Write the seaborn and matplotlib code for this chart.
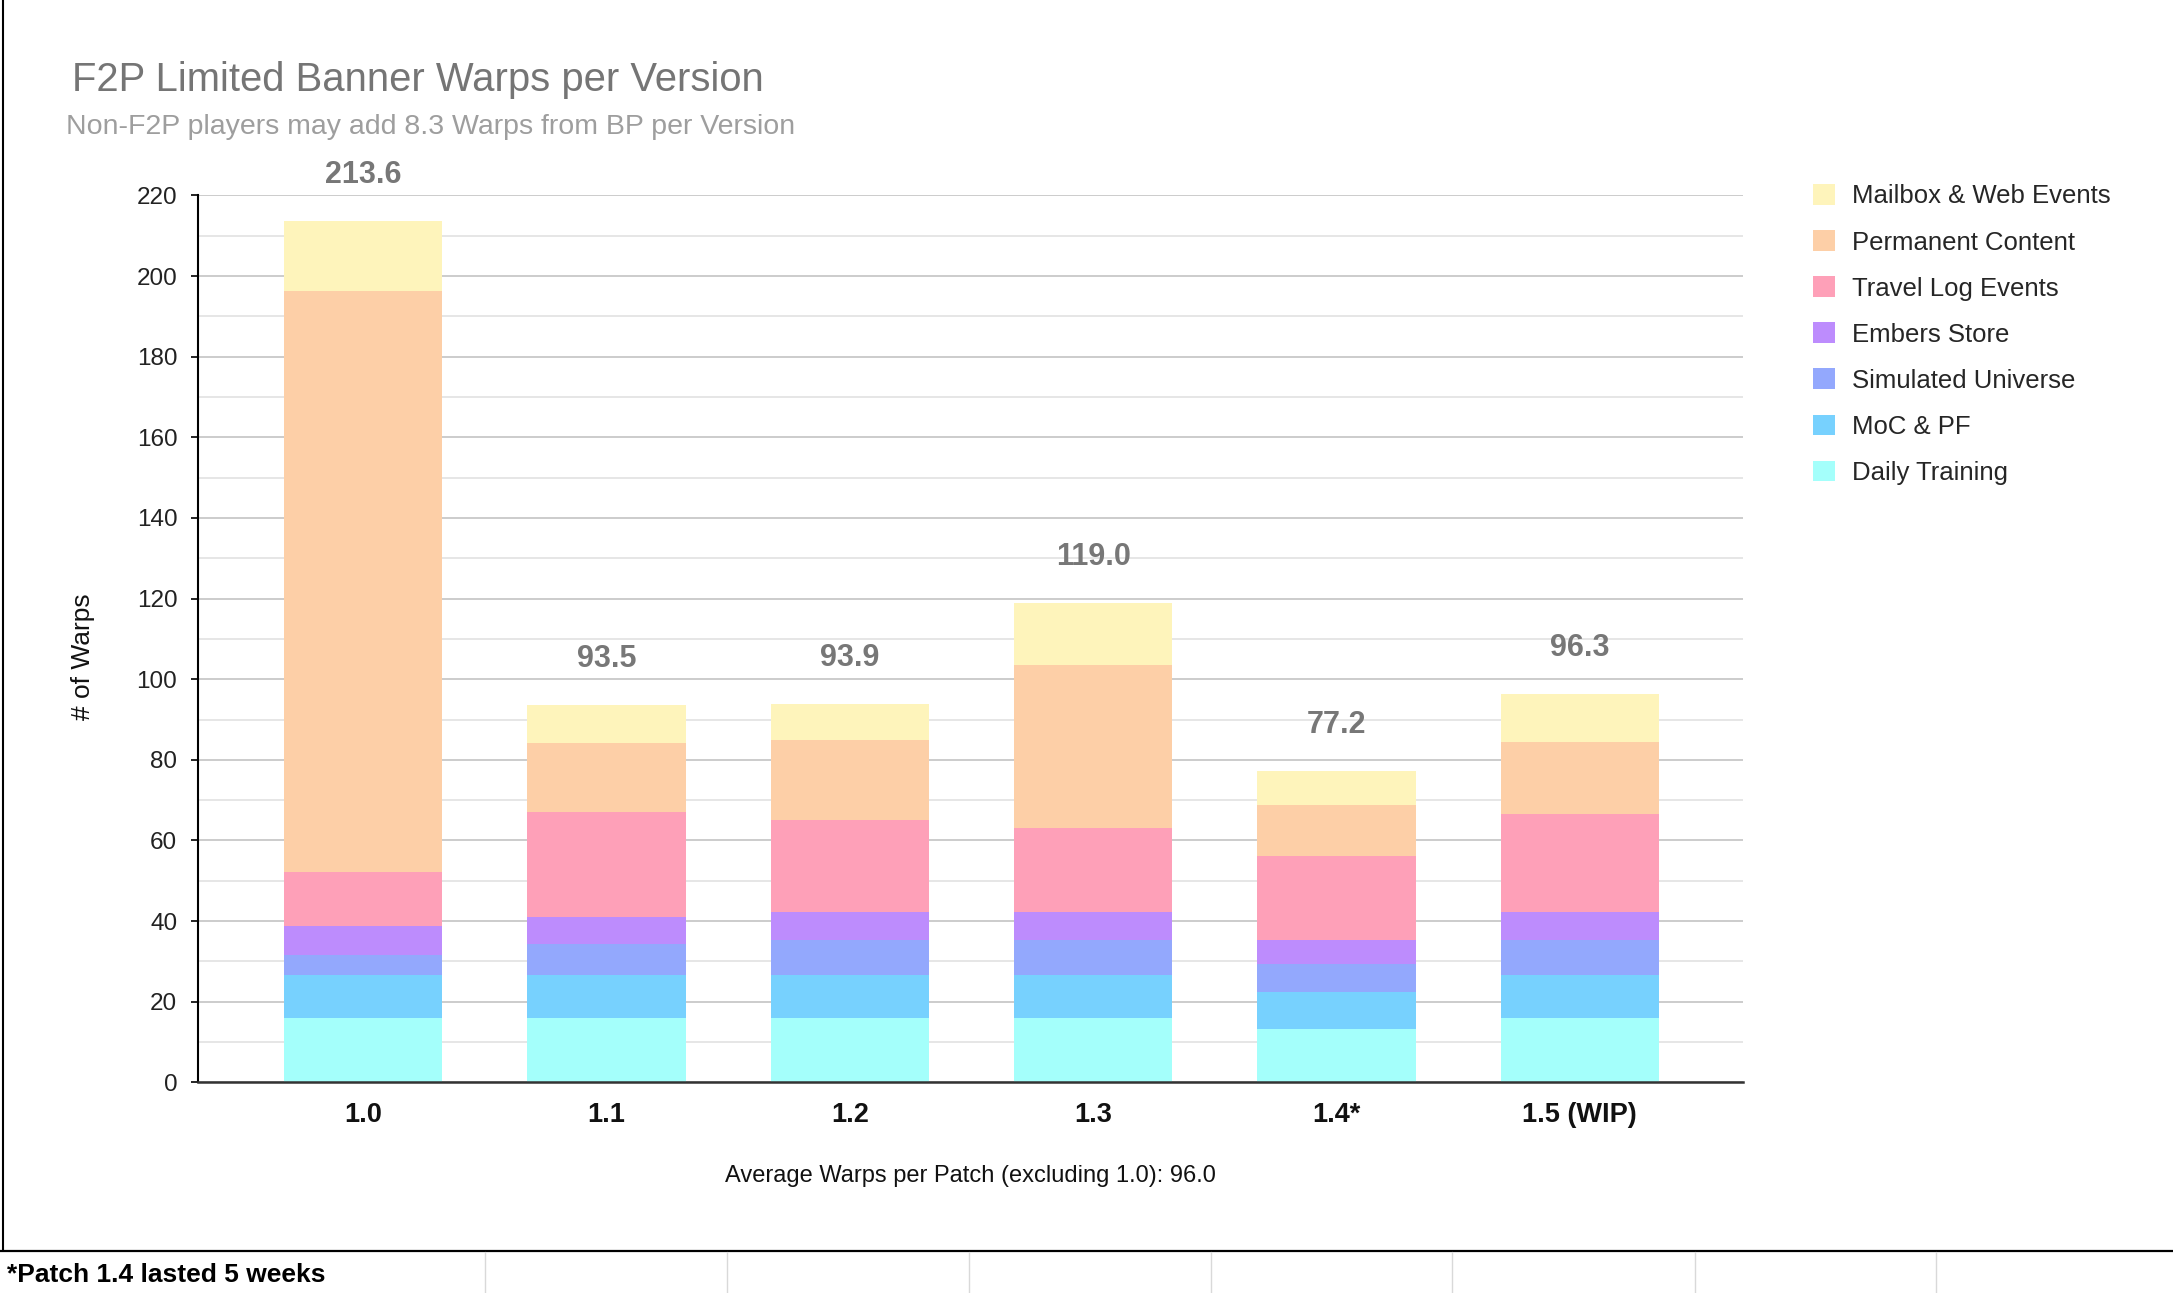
import numpy as np
import pandas as pd
import matplotlib
matplotlib.use("Agg")
import matplotlib.pyplot as plt
from matplotlib.lines import Line2D
from matplotlib.patches import Patch
import seaborn as sns

# ---- data ----
versions = ["1.0", "1.1", "1.2", "1.3", "1.4*", "1.5 (WIP)"]
daily_training = [15.9, 15.9, 15.9, 15.9, 13.2, 15.9]
moc_pf = [10.8, 10.8, 10.8, 10.8, 9.2, 10.8]
simulated_universe = [4.8, 7.5, 8.6, 8.6, 7.0, 8.6]
embers_store = [7.2, 6.9, 6.9, 6.9, 5.9, 6.9]
travel_log = [13.4, 25.9, 22.8, 20.8, 20.8, 24.3]
permanent_content = [144.1, 17.2, 19.8, 40.6, 12.8, 17.8]
mailbox_web = [17.4, 9.3, 9.1, 15.4, 8.3, 12.0]

series_names = ["Daily Training", "MoC & PF", "Simulated Universe", "Embers Store",
                "Travel Log Events", "Permanent Content", "Mailbox & Web Events"]
series_values = [daily_training, moc_pf, simulated_universe, embers_store,
                 travel_log, permanent_content, mailbox_web]
series_colors = ["#a4fffb", "#77d1fe", "#93a8fd", "#bd8cfd", "#fea0b8", "#fdcfa7", "#fef4bb"]

title = "F2P Limited Banner Warps per Version"
subtitle = "Non-F2P players may add 8.3 Warps from BP per Version"
footnote = "*Patch 1.4 lasted 5 weeks"

sns.set_theme(style="white")
plt.rcParams["font.family"] = ["Liberation Sans", "DejaVu Sans"]

fig = plt.figure(figsize=(21.73, 12.93), dpi=100)
ax = fig.add_axes([0.0912, 0.1629, 0.7111, 0.686])

stack = np.array(series_values)
cum = np.cumsum(stack, axis=0)
totals = cum[-1]

# draw cumulative layers from top down so each lower layer overlays the higher one
for i in range(len(series_names) - 1, -1, -1):
    df = pd.DataFrame({"version": versions, "value": cum[i]})
    sns.barplot(data=df, x="version", y="value", order=versions, color=series_colors[i],
                saturation=1, width=0.65, errorbar=None, ax=ax, zorder=2, linewidth=0)

avg_excl = np.mean(totals[1:])

for i, t in enumerate(totals):
    ax.text(i, t + 11.4, f"{t:.1f}", ha="center", va="center", fontsize=22,
            fontweight="bold", color="#777777")

ax.set_ylim(0, 220)
ax.set_xlim(-0.678, 5.672)
ax.set_yticks(np.arange(0, 221, 20))
ax.set_yticks(np.arange(10, 221, 20), minor=True)
ax.yaxis.grid(True, which="major", color="#cccccc", lw=1.4, zorder=0)
ax.yaxis.grid(True, which="minor", color="#e6e6e6", lw=1.4, zorder=0)
ax.xaxis.grid(False)
ax.set_axisbelow(True)

for s in ["top", "right"]:
    ax.spines[s].set_visible(False)
ax.spines["left"].set_color("black")
ax.spines["left"].set_linewidth(1.5)
ax.spines["bottom"].set_color("#333333")
ax.spines["bottom"].set_linewidth(1.8)
ax.spines["left"].set_zorder(3)
ax.spines["bottom"].set_zorder(3)

ax.tick_params(axis="y", which="major", length=5, width=1.2, color="black",
               labelsize=17.5, labelcolor="#222222", pad=10, left=True)
ax.tick_params(axis="y", which="minor", length=0)
ax.tick_params(axis="x", length=0, pad=14, labelsize=19.5, labelcolor="#111111")
for lbl in ax.get_xticklabels():
    lbl.set_fontweight("bold")

ax.set_ylabel("# of Warps", fontsize=19, color="#111111")
ax.yaxis.set_label_coords(-0.0748, 0.48)
ax.yaxis.label.set_verticalalignment("center")

ax.set_xlabel(f"Average Warps per Patch (excluding 1.0): {avg_excl:.1f}", fontsize=17,
              color="#111111")
ax.xaxis.set_label_coords(0.5, -0.106)
ax.xaxis.label.set_verticalalignment("center")

# titles
fig.text(0.0332, 0.9378, title, fontsize=28.8, color="#757575", ha="left", va="center")
fig.text(0.0306, 0.9014, subtitle, fontsize=20.5, color="#9e9e9e", ha="left", va="center")

# legend (top series first)
handles = [Patch(facecolor=series_colors[i], edgecolor="none", label=series_names[i])
           for i in range(len(series_names) - 1, -1, -1)]
fig.legend(handles=handles, loc="upper left", bbox_to_anchor=(0.8342, 0.8575),
           bbox_transform=fig.transFigure, frameon=False, fontsize=18.5,
           handlelength=0.86, handleheight=0.86, handletextpad=0.65,
           labelspacing=0.85, borderpad=0, borderaxespad=0)

# sheet-style frame and footer row
fig.add_artist(Line2D([0.0014, 0.0014], [1.0, 0.0322], transform=fig.transFigure,
                      color="black", lw=1.5))
fig.add_artist(Line2D([0.0, 1.0], [0.0322, 0.0322], transform=fig.transFigure,
                      color="black", lw=1.6))
for xf in [0.2232, 0.3346, 0.4459, 0.5573, 0.6682, 0.7800, 0.8909]:
    fig.add_artist(Line2D([xf, xf], [0.0, 0.0315], transform=fig.transFigure,
                          color="#d9d9d9", lw=1.0))
fig.text(0.0032, 0.0141, footnote, fontsize=19, fontweight="bold", color="black",
         ha="left", va="center")

fig.savefig("out.png", dpi=100, facecolor="white")
